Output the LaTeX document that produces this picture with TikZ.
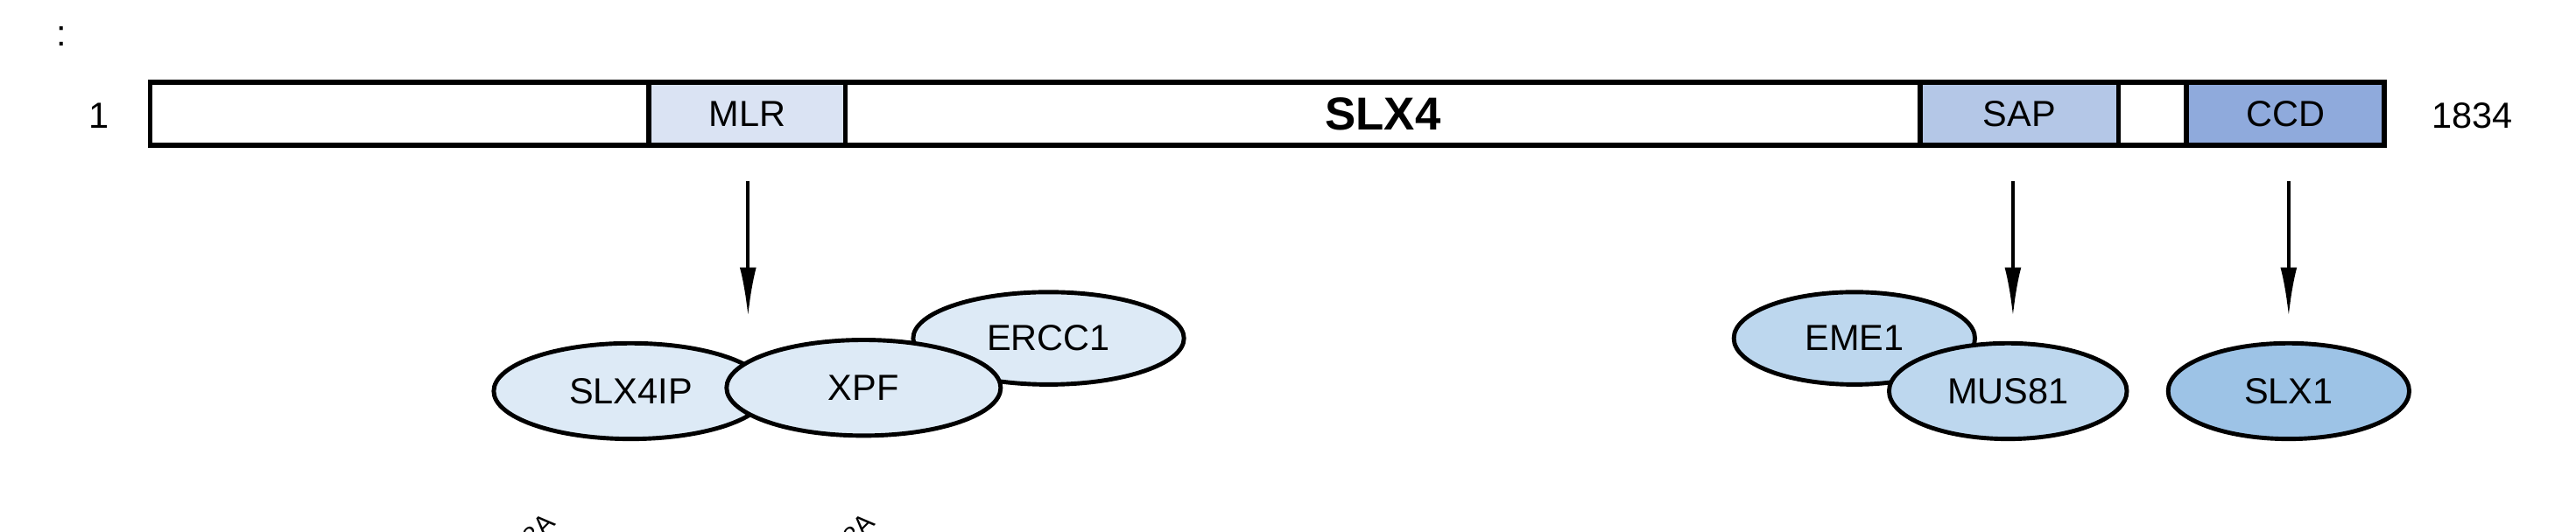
\documentclass[tikz,border=0pt]{standalone}
\usepackage{fontspec}
\setmainfont{Liberation Sans}
\usetikzlibrary{shapes.geometric,arrows.meta}
\definecolor{cMLR}{HTML}{DAE3F3}
\definecolor{cSAP}{HTML}{B4C7E7}
\definecolor{cCCD}{HTML}{8FAADC}
\definecolor{cA}{HTML}{DDEAF6}
\definecolor{cB}{HTML}{BDD7EE}
\definecolor{cC}{HTML}{9DC3E6}
\tikzset{
  seg/.style={draw,line width=1.5pt,minimum height=19pt,inner sep=0pt,outer sep=0pt,anchor=west,font=\fontsize{11}{11}\selectfont},
  prot/.style={ellipse,draw,line width=1.3pt,inner sep=0pt,font=\fontsize{11}{11}\selectfont},
  arr/.style={line width=1.1pt,-{Latex[length=15pt,width=5pt]}},
  lbl/.style={font=\fontsize{11}{11}\selectfont}
}
\begin{document}
\begin{tikzpicture}[x=0.5pt,y=-0.5pt]
\useasboundingbox (0,0) rectangle (1560,322);
\clip (0,0) rectangle (1560,322);
\node[lbl] at (37,22) {:};
\node[seg,minimum width=151pt] (s0) at (91,69) {};
\node[seg,minimum width=59.5pt,fill=cMLR] (mlr) at (393,69) {MLR};
\node[seg,minimum width=325.5pt] (mid) at (512,69) {\fontsize{14}{14}\selectfont\bfseries SLX4};
\node[seg,minimum width=60pt,fill=cSAP] (sap) at (1163,69) {SAP};
\node[seg,minimum width=20.5pt] (gap) at (1283,69) {};
\node[seg,minimum width=60pt,fill=cCCD] (ccd) at (1324,69) {CCD};
\node[lbl] (n1) at (60,70) {1};
\node[lbl] (n2) at (1497,70) {1834};
\node[prot,fill=cA,minimum width=83pt,minimum height=29pt] (slx4ip) at (382,237) {SLX4IP};
\node[prot,fill=cA,minimum width=82pt,minimum height=28pt] (ercc1) at (635,205) {ERCC1};
\node[prot,fill=cA,minimum width=83pt,minimum height=29pt] (xpf) at (523,235) {XPF};
\node[prot,fill=cB,minimum width=73pt,minimum height=28pt] (eme1) at (1123,205) {EME1};
\node[prot,fill=cB,minimum width=72pt,minimum height=29pt] (mus81) at (1216,237) {MUS81};
\node[prot,fill=cC,minimum width=73pt,minimum height=29pt] (slx1) at (1386,237) {SLX1};
\coordinate (a1) at (453,110); \coordinate (b1) at (453,192);
\coordinate (a2) at (1219,110); \coordinate (b2) at (1219,192);
\coordinate (a3) at (1386,110); \coordinate (b3) at (1386,192);
\draw[arr] (a1) -- (b1);
\draw[arr] (a2) -- (b2);
\draw[arr] (a3) -- (b3);
\node[lbl,rotate=45,anchor=south east,font=\fontsize{8}{8}\selectfont] at (347,318) {8A};
\node[lbl,rotate=45,anchor=south east,font=\fontsize{8}{8}\selectfont] at (541,318) {8A};
\end{tikzpicture}
\end{document}
